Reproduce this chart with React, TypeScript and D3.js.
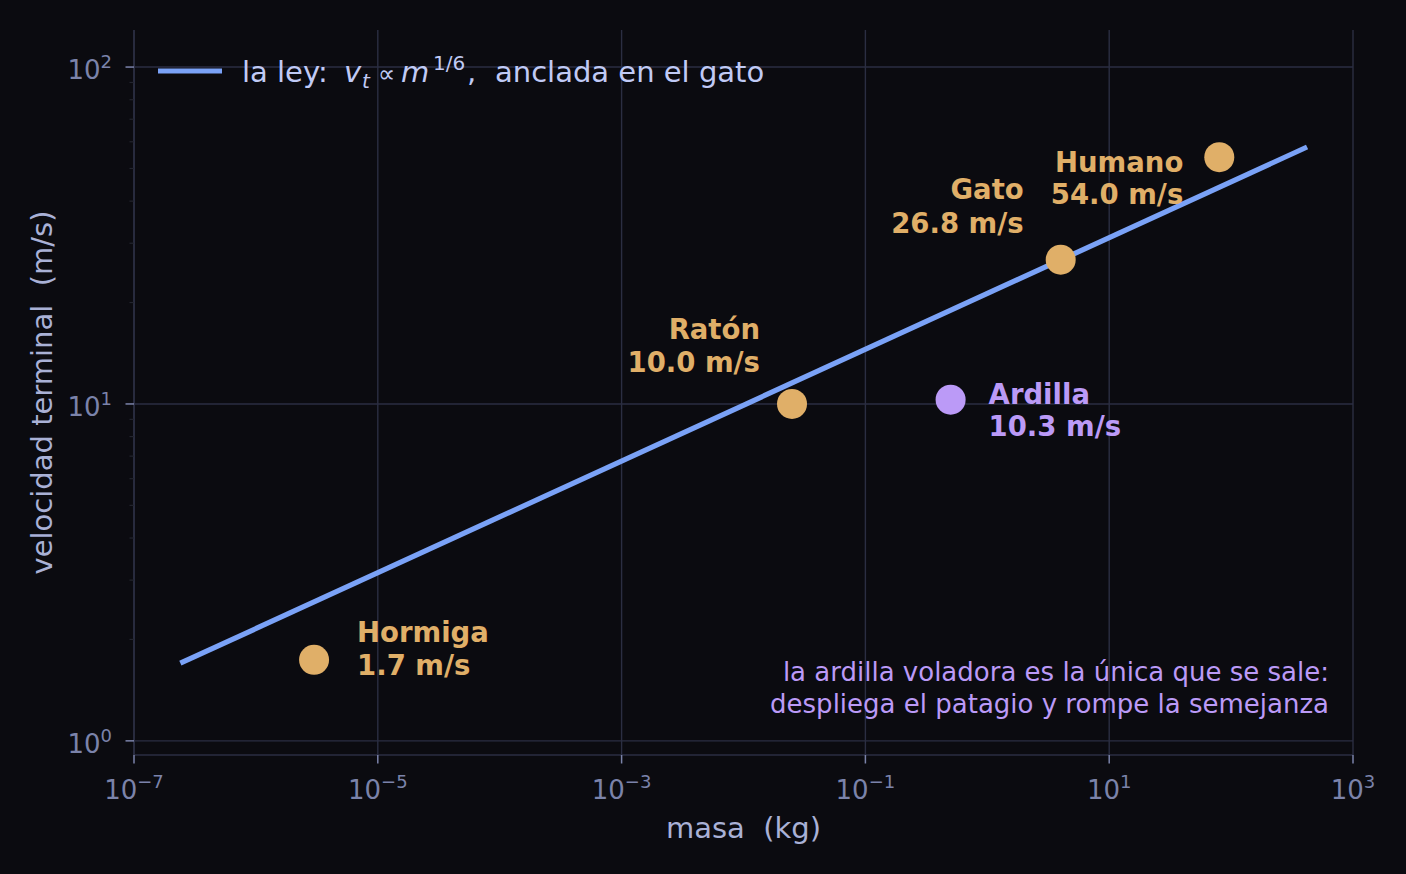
import React, { useEffect, useRef } from 'react';
import * as d3 from 'd3';

// Datos
const animals = ['Hormiga', 'Ratón', 'Ardilla', 'Gato', 'Humano'];
const massKg = [3e-6, 0.025, 0.5, 4, 80];
const terminalVel = [1.74, 10.0, 10.3, 26.8, 54.0];

// la ley v_t ∝ m^(1/6), extremos de la recta
const lawMass = [2.4e-7, 420];
const lawVel = [1.7, 57.9];

const xTickExps = [-7, -5, -3, -1, 1, 3];
const yTickExps = [0, 1, 2];

const noteLines = [
  'la ardilla voladora es la única que se sale:',
  'despliega el patagio y rompe la semejanza',
];

// colocación de etiquetas (px relativos al punto)
const labelPlacement: Record<string, { anchor: string; dx: number; dy: [number, number] }> = {
  Hormiga: { anchor: 'start', dx: 43, dy: [-18, 15] },
  'Ratón': { anchor: 'end', dx: -32, dy: [-65, -32] },
  Ardilla: { anchor: 'start', dx: 38, dy: [4, 36] },
  Gato: { anchor: 'end', dx: -37, dy: [-61, -27] },
  Humano: { anchor: 'end', dx: -36, dy: [15, 47] },
};

const BG = '#0b0b10';
const GRID = '#2b2e42';
const TICK = '#7b83aa';
const LABEL = '#a9b1d6';
const ORANGE = '#e0af68';
const PURPLE = '#bb9af7';
const BLUE = '#7aa2f7';
const FONT = '"DejaVu Sans", sans-serif';

const App: React.FC = () => {
  const ref = useRef<SVGSVGElement | null>(null);

  useEffect(() => {
    if (!ref.current) return;
    const svg = d3.select(ref.current);
    svg.selectAll('*').remove();

    const W = 1406, H = 874;
    const left = 134, right = 1353, top = 30, bottom = 755;

    svg.attr('width', W).attr('height', H).style('font-family', FONT);
    svg.append('rect').attr('width', W).attr('height', H).attr('fill', BG);

    const x = d3.scaleLog().domain([1e-7, 1e3]).range([left, right]);
    const y = d3.scaleLog().domain([Math.pow(10, -0.042), Math.pow(10, 2.11)]).range([bottom, top]);

    // grid
    const g = svg.append('g');
    xTickExps.forEach((e) => {
      g.append('line')
        .attr('x1', x(Math.pow(10, e))).attr('x2', x(Math.pow(10, e)))
        .attr('y1', top).attr('y2', bottom)
        .attr('stroke', GRID).attr('stroke-width', 1.4);
    });
    yTickExps.forEach((e) => {
      g.append('line')
        .attr('x1', left).attr('x2', right)
        .attr('y1', y(Math.pow(10, e))).attr('y2', y(Math.pow(10, e)))
        .attr('stroke', GRID).attr('stroke-width', 1.4);
    });

    // spines
    g.append('line').attr('x1', left).attr('x2', left).attr('y1', top).attr('y2', bottom)
      .attr('stroke', GRID).attr('stroke-width', 1.6);
    g.append('line').attr('x1', left).attr('x2', right).attr('y1', bottom).attr('y2', bottom)
      .attr('stroke', GRID).attr('stroke-width', 1.6);

    // y minor ticks
    const [y0, y1] = y.domain();
    for (let e = -1; e <= 2; e++) {
      for (let k = 2; k <= 9; k++) {
        const v = k * Math.pow(10, e);
        if (v < y0 || v > y1) continue;
        g.append('line').attr('x1', left - 4.5).attr('x2', left)
          .attr('y1', y(v)).attr('y2', y(v))
          .attr('stroke', '#23252f').attr('stroke-width', 1.2);
      }
    }

    // major ticks + labels
    const powLabel = (sel: any, e: number) => {
      sel.append('tspan').text('10');
      sel.append('tspan').attr('dy', -11).attr('font-size', 18)
        .text(e < 0 ? `\u2212${-e}` : `${e}`);
    };
    xTickExps.forEach((e) => {
      const px = x(Math.pow(10, e));
      g.append('line').attr('x1', px).attr('x2', px).attr('y1', bottom).attr('y2', bottom + 8.5)
        .attr('stroke', TICK).attr('stroke-width', 1.5);
      const t = g.append('text').attr('x', px).attr('y', 799)
        .attr('text-anchor', 'middle').attr('fill', TICK).attr('font-size', 26);
      powLabel(t, e);
    });
    yTickExps.forEach((e) => {
      const py = y(Math.pow(10, e));
      g.append('line').attr('x1', left - 8.5).attr('x2', left).attr('y1', py).attr('y2', py)
        .attr('stroke', TICK).attr('stroke-width', 1.5);
      const t = g.append('text').attr('x', 112).attr('y', py + 12)
        .attr('text-anchor', 'end').attr('fill', TICK).attr('font-size', 26);
      powLabel(t, e);
    });

    // axis labels
    svg.append('text').attr('x', (left + right) / 2).attr('y', 838)
      .attr('text-anchor', 'middle').attr('fill', LABEL).attr('font-size', 29)
      .style('white-space', 'pre').text('masa  (kg)');
    svg.append('text')
      .attr('transform', `translate(52,${(top + bottom) / 2}) rotate(-90)`)
      .attr('text-anchor', 'middle').attr('fill', LABEL).attr('font-size', 29)
      .style('white-space', 'pre').text('velocidad terminal  (m/s)');

    // law line
    const line = d3.line<number>()
      .x((_, i) => x(lawMass[i]))
      .y((d) => y(d));
    svg.append('path').datum(lawVel).attr('d', line)
      .attr('fill', 'none').attr('stroke', BLUE).attr('stroke-width', 5.2);

    // points
    const pts = animals.map((name, i) => ({ name, m: massKg[i], v: terminalVel[i] }));
    svg.selectAll('circle.pt').data(pts).enter().append('circle')
      .attr('class', 'pt')
      .attr('cx', (d) => x(d.m)).attr('cy', (d) => y(d.v)).attr('r', 15)
      .attr('fill', (d) => (d.name === 'Ardilla' ? PURPLE : ORANGE));

    // annotations
    pts.forEach((d) => {
      const p = labelPlacement[d.name];
      const col = d.name === 'Ardilla' ? PURPLE : ORANGE;
      const lines = [d.name, `${d.v.toFixed(1)} m/s`];
      lines.forEach((txt, j) => {
        svg.append('text')
          .attr('x', x(d.m) + p.dx).attr('y', y(d.v) + p.dy[j])
          .attr('text-anchor', p.anchor).attr('fill', col)
          .attr('font-size', 27.5).attr('font-weight', 'bold').text(txt);
      });
    });

    // note
    noteLines.forEach((txt, j) => {
      svg.append('text').attr('x', 1329).attr('y', 681 + j * 32)
        .attr('text-anchor', 'end').attr('fill', PURPLE).attr('font-size', 26).text(txt);
    });

    // legend
    svg.append('line').attr('x1', 158).attr('x2', 222).attr('y1', 71).attr('y2', 71)
      .attr('stroke', BLUE).attr('stroke-width', 5.2);
    const lg = svg.append('text').attr('y', 82).attr('fill', '#c0caf5').attr('font-size', 29);
    lg.append('tspan').attr('x', 242).text('la ley:');
    lg.append('tspan').attr('x', 344).attr('font-style', 'italic').text('v');
    lg.append('tspan').attr('x', 362).attr('dy', 6).attr('font-size', 20).attr('font-style', 'italic').text('t');
    lg.append('tspan').attr('x', 378).attr('dy', -6).attr('font-size', 24).text('\u221D');
    lg.append('tspan').attr('x', 401).attr('font-style', 'italic').text('m');
    lg.append('tspan').attr('x', 433).attr('dy', -12).attr('font-size', 20).text('1/6');
    lg.append('tspan').attr('x', 467).attr('dy', 12).text(',');
    lg.append('tspan').attr('x', 495).text('anclada en el gato');
  }, []);

  return (
    <div style={{ position: 'fixed', left: 0, top: 0, width: 1406, height: 874, background: BG }}>
      <svg ref={ref} style={{ display: 'block' }}></svg>
    </div>
  );
};

export default App;
